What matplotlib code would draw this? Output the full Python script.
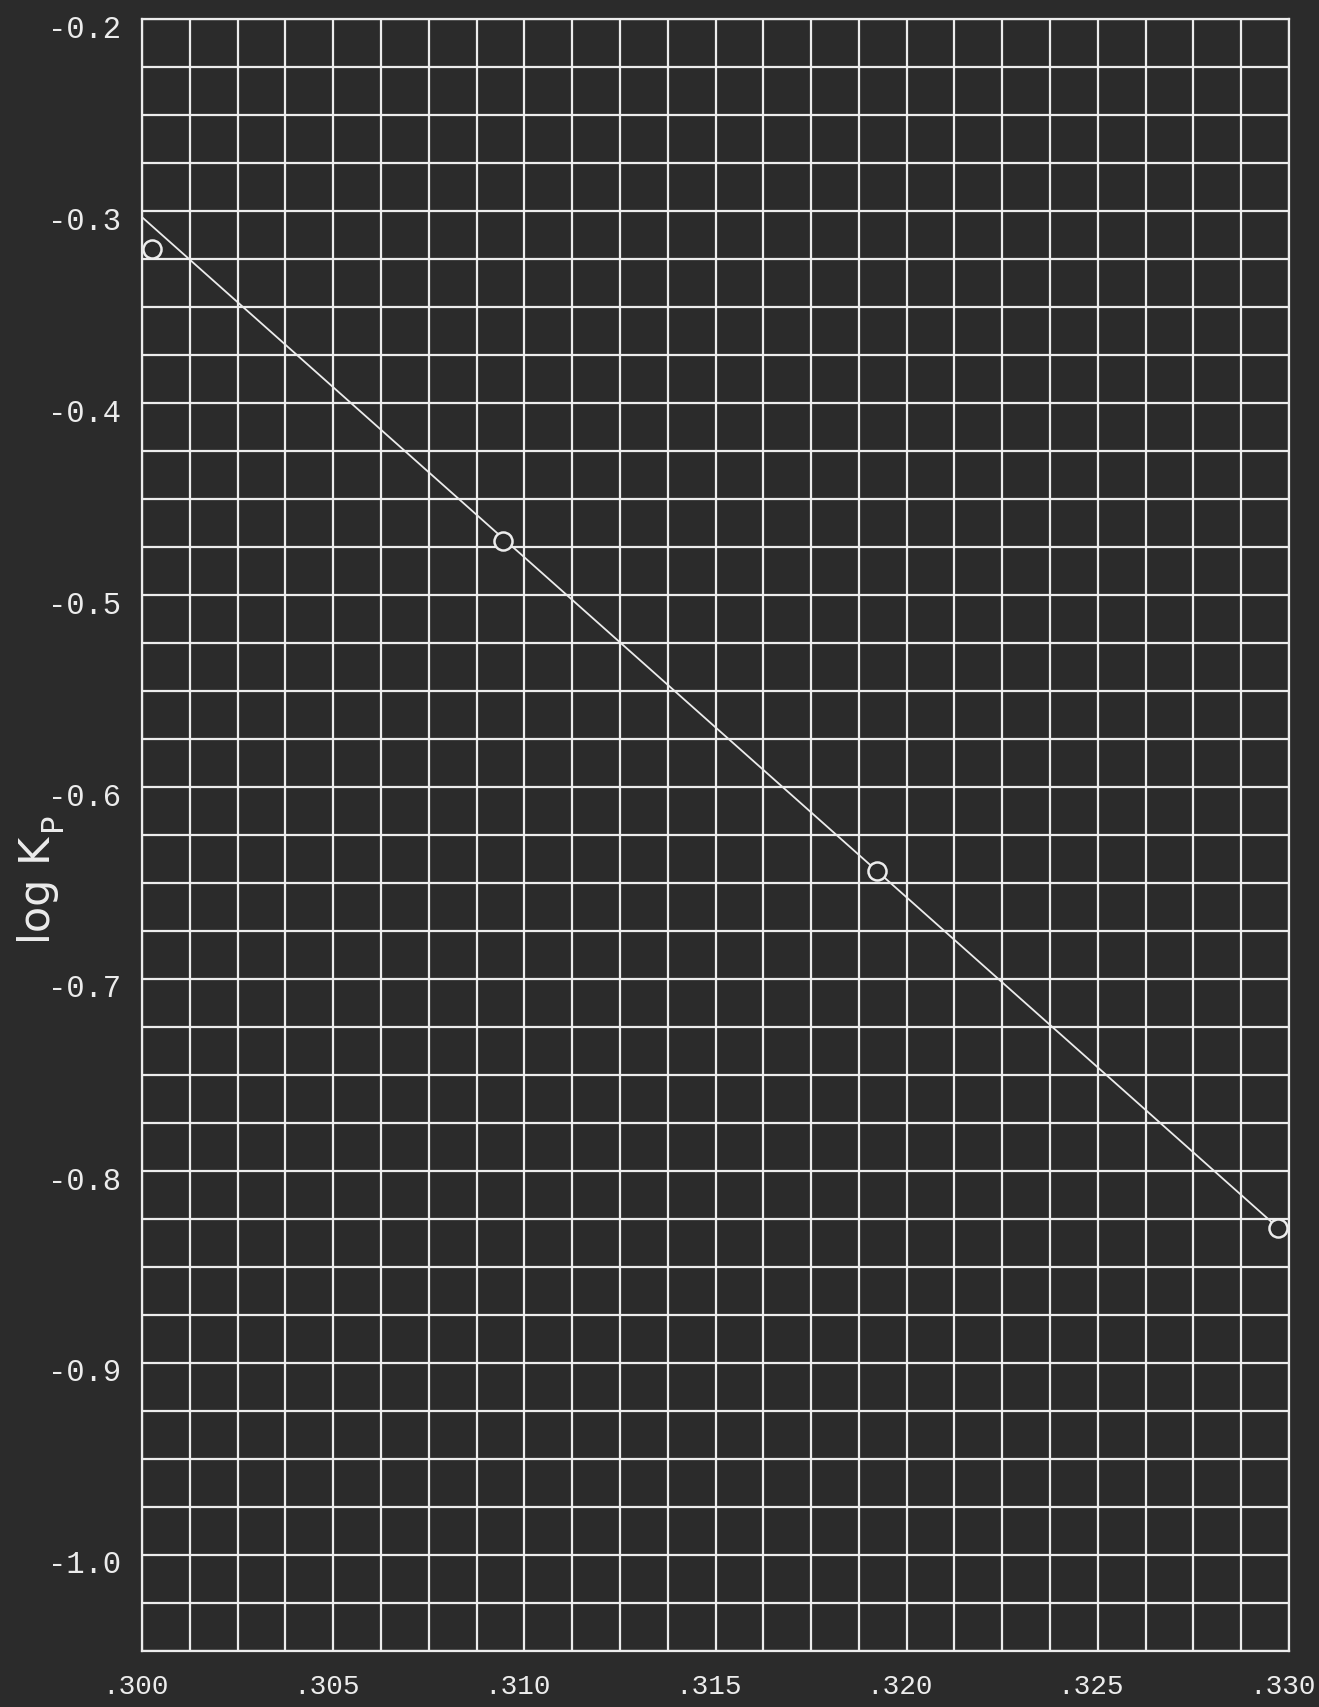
import numpy as np
import matplotlib
matplotlib.use('Agg')
import matplotlib.pyplot as plt
import matplotlib.transforms as mtransforms

x_pts = [0.30026, 0.30944, 0.31922, 0.32971]
logkp = [-0.320, -0.472, -0.644, -0.8295]

# fitted line drawn on the graph
line_x = [0.300, 0.32971]
line_y = [-0.3032, -0.8295]

xticks = [0.300, 0.305, 0.310, 0.315, 0.320, 0.325, 0.330]
xlabels = ['.300', '.305', '.310', '.315', '.320', '.325', '.330']
yticks = [-0.2, -0.3, -0.4, -0.5, -0.6, -0.7, -0.8, -0.9, -1.0]
ylabels = ['-0.2', '-0.3', '-0.4', '-0.5', '-0.6', '-0.7', '-0.8', '-0.9', '-1.0']

bg = '#2b2b2b'
fg = '#ececec'

fig = plt.figure(figsize=(13.19, 17.08), dpi=100, facecolor=bg)
ax = fig.add_axes([142/1319, 56/1708, 1147/1319, 1632/1708])
ax.set_facecolor(bg)

ax.set_xlim(0.300, 0.330)
ax.set_ylim(-1.05, -0.2)

# graph paper grid
ax.set_xticks(np.arange(0.300, 0.33001, 0.00125), minor=True)
ax.set_yticks(np.arange(-1.05, -0.1999, 0.025), minor=True)
ax.grid(which='both', color=fg, linewidth=1.6)
ax.set_xticks(xticks)
ax.set_xticklabels(xlabels, fontfamily='Liberation Mono', fontsize=20, color=fg)
ax.set_yticks(yticks)
ax.set_yticklabels(ylabels, fontfamily='Liberation Mono', fontsize=22, color=fg)
ax.tick_params(which='both', length=0)
ax.tick_params(axis='x', pad=16)
ax.tick_params(axis='y', pad=15)
ax.set_axisbelow(True)
for s in ax.spines.values():
    s.set_color(fg)
    s.set_linewidth(1.6)

# typed labels sit a little off the lines in the original
off_y = mtransforms.ScaledTranslation(0, -6/100, fig.dpi_scale_trans)
for lab in ax.get_yticklabels():
    lab.set_transform(lab.get_transform() + off_y)
off_x = mtransforms.ScaledTranslation(-7/100, 0, fig.dpi_scale_trans)
for lab in ax.get_xticklabels():
    lab.set_transform(lab.get_transform() + off_x)

ax.plot(line_x, line_y, color=fg, linewidth=1.3, zorder=3)
ax.plot(x_pts, logkp, linestyle='none', marker='o', markersize=13,
        markerfacecolor=bg, markeredgecolor=fg, markeredgewidth=1.8,
        zorder=4, clip_on=False)

# axis title, lettered by hand in the original: log K with subscript P
fig.text(38/1319, 1 - 890/1708, 'log K', rotation=90,
         ha='center', va='center', fontsize=31, color=fg)
fig.text(53/1319, 1 - 822/1708, 'P', rotation=90,
         ha='center', va='center', fontsize=22, color=fg)

fig.savefig('out.png', dpi=100, facecolor=bg)
